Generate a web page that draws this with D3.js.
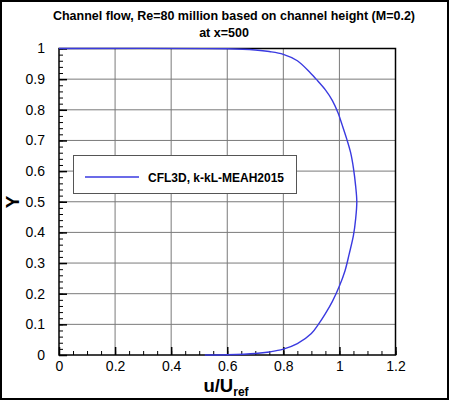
<!DOCTYPE html>
<html><head><meta charset="utf-8">
<script src="https://cdn.jsdelivr.net/npm/d3@7"></script>
<style>body{margin:0;background:#fff}svg{display:block;font-family:"Liberation Sans",Arial,sans-serif}</style>
</head><body><svg id="c" width="450" height="401"></svg>
<script>
const titleLine1 = "Channel flow, Re=80 million based on channel height (M=0.2)";
const titleLine2 = "at x=500";
const seriesName = "CFL3D, k-kL-MEAH2015";
const xTicks = [0, 0.2, 0.4, 0.6, 0.8, 1, 1.2];
const yTicks = [0, 0.1, 0.2, 0.3, 0.4, 0.5, 0.6, 0.7, 0.8, 0.9, 1];
const uValues = [0.52,0.6,0.7,0.75,0.8,0.85,0.9,0.925,0.95,0.975,1.0,1.02,1.035,1.05,1.058,1.062,
                 1.058,1.05,1.04,1.026,1.01,0.995,0.975,0.95,0.917,0.9,0.85,0.8,0.75,0.7,0.6,0.0];
const yValues = [0,0.001,0.005,0.010,0.019,0.037,0.07,0.1,0.135,0.175,0.225,0.275,0.33,0.39,0.445,0.5,
                 0.55,0.61,0.66,0.705,0.75,0.79,0.83,0.865,0.9,0.917,0.96,0.981,0.99,0.995,0.999,1.0];

const svg = d3.select("#c");
const L = 59, R = 395.5, T = 48.5, B = 355;
const x = d3.scaleLinear().domain([0, 1.2]).range([L, R]);
const y = d3.scaleLinear().domain([0, 1]).range([B, T]);

// outer frame
svg.append("rect").attr("x",1).attr("y",1).attr("width",447).attr("height",398)
  .attr("fill","none").attr("stroke","#000").attr("stroke-width",2);

// titles
svg.append("text").attr("x",234).attr("y",19.5).attr("text-anchor","middle")
  .attr("font-weight","bold").attr("font-size",12.5).text(titleLine1);
svg.append("text").attr("x",224).attr("y",37).attr("text-anchor","middle")
  .attr("font-weight","bold").attr("font-size",12.5).text(titleLine2);

// grid
const g = svg.append("g");
g.selectAll(".gx").data(xTicks.slice(1,-1)).join("line")
  .attr("x1",d=>x(d)).attr("x2",d=>x(d)).attr("y1",T).attr("y2",B)
  .attr("stroke","#7a7a7a").attr("stroke-width",1);
g.selectAll(".gy").data(yTicks.slice(1,-1)).join("line")
  .attr("y1",d=>y(d)).attr("y2",d=>y(d)).attr("x1",L).attr("x2",R)
  .attr("stroke","#7a7a7a").attr("stroke-width",1);

// axes with inward ticks
const xMinor = d3.range(0, 1.2001, 0.05);
const yMinor = d3.range(0, 1.0001, 0.02);
const xAxis = d3.axisBottom(x).tickValues(xMinor).tickSize(-4).tickFormat("");
const yAxis = d3.axisLeft(y).tickValues(yMinor).tickSize(-4).tickFormat("");
svg.append("g").attr("transform",`translate(0,${B})`).call(xAxis)
  .call(s=>s.select(".domain").remove()).selectAll("line").attr("stroke","#000");
svg.append("g").attr("transform",`translate(${L},0)`).call(yAxis)
  .call(s=>s.select(".domain").remove()).selectAll("line").attr("stroke","#000");
const xMaj = d3.axisBottom(x).tickValues(xTicks).tickSize(-8).tickPadding(10)
  .tickFormat(d=>d3.format("~g")(d));
const yMaj = d3.axisLeft(y).tickValues(yTicks).tickSize(-8).tickPadding(14)
  .tickFormat(d=>d3.format("~g")(d));
const gx = svg.append("g").attr("transform",`translate(0,${B})`).call(xMaj);
gx.select(".domain").remove();
gx.selectAll("line").attr("stroke","#000").attr("stroke-width",1.5);
gx.selectAll("text").attr("font-size",14).attr("font-family","Liberation Sans, Arial, sans-serif").attr("fill","#000").attr("dy","0.45em");
const gy = svg.append("g").attr("transform",`translate(${L},0)`).call(yMaj);
gy.select(".domain").remove();
gy.selectAll("line").attr("stroke","#000").attr("stroke-width",1.5);
gy.selectAll("text").attr("font-size",14).attr("font-family","Liberation Sans, Arial, sans-serif").attr("fill","#000");

// plot border
svg.append("rect").attr("x",L).attr("y",T).attr("width",R-L).attr("height",B-T)
  .attr("fill","none").attr("stroke","#000").attr("stroke-width",1.5);

// curve
const pts = uValues.map((u,i)=>[u,yValues[i]]);
const line = d3.line().x(d=>x(d[0])).y(d=>y(d[1])).curve(d3.curveCatmullRom.alpha(0.5));
svg.append("path").datum(pts).attr("d",line).attr("fill","none")
  .attr("stroke","#3a3ae0").attr("stroke-width",1.4);

// legend
svg.append("rect").attr("x",73.5).attr("y",155.5).attr("width",223).attr("height",38)
  .attr("fill","#fff").attr("stroke","#555").attr("stroke-width",1);
svg.append("line").attr("x1",85).attr("x2",139).attr("y1",177).attr("y2",177)
  .attr("stroke","#3a3ae0").attr("stroke-width",1.4);
svg.append("text").attr("x",148).attr("y",181.5).attr("font-weight","bold")
  .attr("font-size",12).text(seriesName);

// axis labels
const xl = svg.append("text").attr("x",226).attr("y",392).attr("text-anchor","middle")
  .attr("font-weight","bold").attr("font-size",18.5);
xl.append("tspan").text("u/U");
xl.append("tspan").attr("font-size",12).attr("dy",4).text("ref");
svg.append("text").attr("transform","translate(19,202) rotate(-90)")
  .attr("text-anchor","middle").attr("font-weight","bold").attr("font-size",19).text("Y");
</script></body></html>
